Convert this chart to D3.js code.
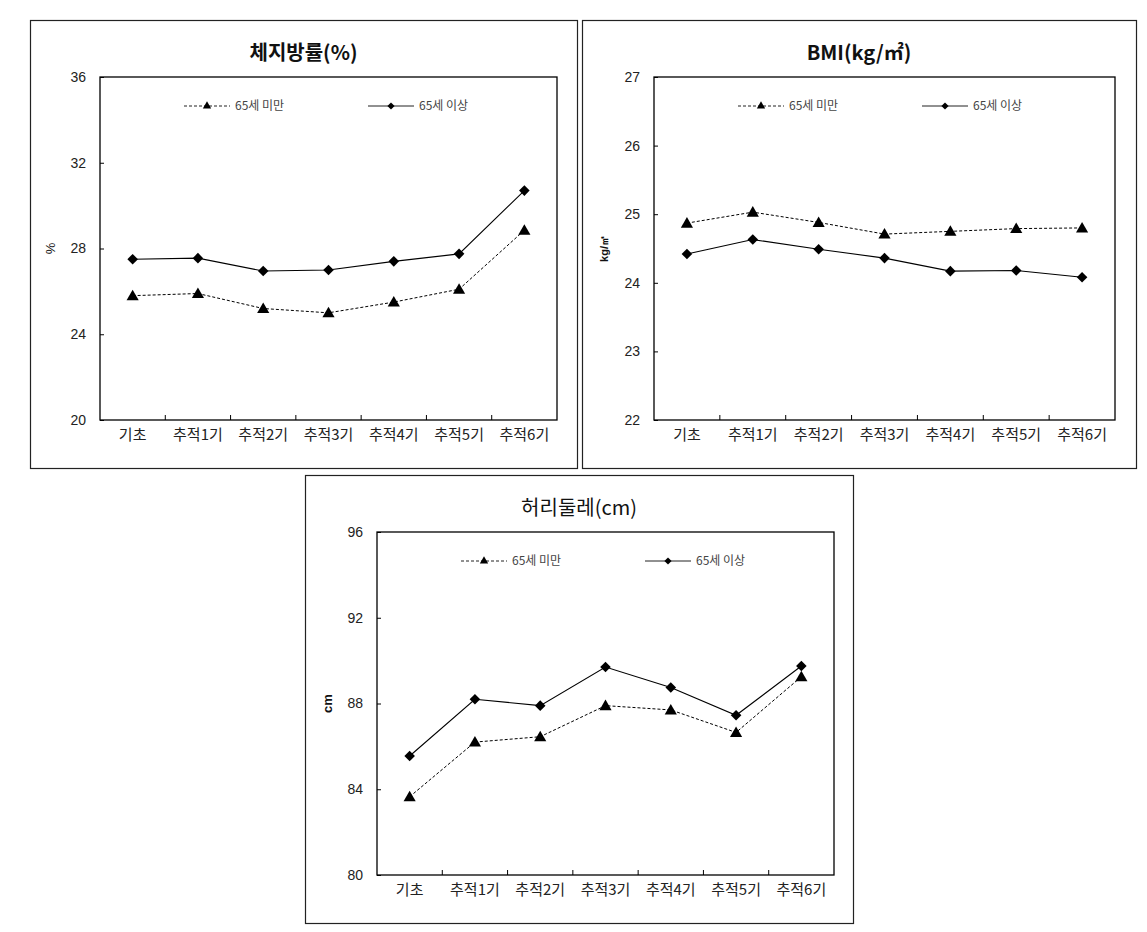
<!DOCTYPE html>
<html>
<head>
<meta charset="utf-8">
<script src="https://cdn.jsdelivr.net/npm/d3@7"></script>
<style>
  body { margin: 0; background: #fff; }
  svg { display: block; }
</style>
</head>
<body>
<script>
// three small line charts: body fat, BMI, waist, split by age group

var categories = ["기초", "추적1기", "추적2기", "추적3기", "추적4기", "추적5기", "추적6기"];
var seriesNames = ["65세 미만", "65세 이상"];

// body fat (%)
var fatUnder65 = [25.8, 25.9, 25.2, 25.0, 25.5, 26.1, 28.85];
var fatOver65 = [27.5, 27.55, 26.95, 27.0, 27.4, 27.75, 30.7];
var fatTicks = [20, 24, 28, 32, 36];

// BMI (kg/m2)
var bmiUnder65 = [24.87, 25.03, 24.88, 24.71, 24.75, 24.79, 24.80];
var bmiOver65 = [24.42, 24.63, 24.49, 24.36, 24.17, 24.18, 24.08];
var bmiTicks = [22, 23, 24, 25, 26, 27];

// waist (cm)
var waistUnder65 = [83.65, 86.2, 86.45, 87.9, 87.7, 86.65, 89.25];
var waistOver65 = [85.55, 88.2, 87.9, 89.7, 88.75, 87.45, 89.75];
var waistTicks = [80, 84, 88, 92, 96];

var svgWidth = 1147;
var svgHeight = 932;

var svg = d3.select("body")
  .append("svg")
  .attr("width", svgWidth)
  .attr("height", svgHeight);

const tickFont = "'Liberation Sans', Arial, sans-serif";
const korFont = "'Noto Sans CJK KR', 'Noto Sans', sans-serif";

function drawPanel(p) {
  var g = svg.append("g");

  // outer frame of the panel
  g.append("rect")
    .attr("x", p.box[0] + 0.5)
    .attr("y", p.box[1] + 0.5)
    .attr("width", p.box[2])
    .attr("height", p.box[3])
    .attr("fill", "#fff")
    .attr("stroke", "#222")
    .attr("stroke-width", 1.2);

  // title, centred on the panel
  g.append("text")
    .attr("x", p.box[0] + p.box[2] / 2)
    .attr("y", p.box[1] + 40)
    .attr("text-anchor", "middle")
    .attr("font-family", korFont)
    .attr("font-size", "20px")
    .attr("font-weight", p.titleWeight)
    .attr("fill", "#111")
    .text(p.title);

  var left = p.plot[0], top = p.plot[1], right = p.plot[2], bottom = p.plot[3];

  var x = d3.scaleBand()
    .domain(categories)
    .range([left, right])
    .padding(0);

  var y = d3.scaleLinear()
    .domain(d3.extent(p.ticks))
    .range([bottom, top]);

  // plot area border
  g.append("rect")
    .attr("x", left)
    .attr("y", top)
    .attr("width", right - left)
    .attr("height", bottom - top)
    .attr("fill", "none")
    .attr("stroke", "#000")
    .attr("stroke-width", 1.3);

  // y axis, ticks pointing inward
  var yAxis = g.append("g")
    .attr("transform", `translate(${left},0)`)
    .call(d3.axisLeft(y).tickValues(p.ticks).tickFormat(d3.format("d")).tickSize(-4).tickPadding(14));
  yAxis.select(".domain").remove();
  yAxis.selectAll("text")
    .attr("font-family", tickFont)
    .attr("font-size", "14px")
    .attr("fill", "#222");
  yAxis.selectAll("line").attr("stroke", "#000");

  // x axis labels
  var xAxis = g.append("g")
    .attr("transform", `translate(0,${bottom})`)
    .call(d3.axisBottom(x).tickSize(0).tickPadding(9));
  xAxis.select(".domain").remove();
  xAxis.selectAll("text")
    .attr("font-family", korFont)
    .attr("font-size", "15px")
    .attr("fill", "#222");

  // x ticks sit on the band boundaries, pointing up
  g.selectAll(".xtick")
    .data(categories.slice(1))
    .enter()
    .append("line")
    .attr("x1", d => x(d))
    .attr("x2", d => x(d))
    .attr("y1", bottom)
    .attr("y2", bottom - 5)
    .attr("stroke", "#000");

  // y axis title
  g.append("text")
    .attr("transform", `translate(${left - 50},${(top + bottom) / 2}) rotate(-90)`)
    .attr("text-anchor", "middle")
    .attr("dy", "0.35em")
    .attr("font-family", tickFont)
    .attr("font-size", p.yLabelSize)
    .attr("font-weight", p.yLabelWeight)
    .attr("fill", "#111")
    .text(p.yLabel);

  var line = d3.line()
    .x((d, i) => x(categories[i]) + x.bandwidth() / 2)
    .y(d => y(d));

  var tri = d3.symbol().type(d3.symbolTriangle).size(64);
  var dia = d3.symbol().type(d3.symbolSquare).size(56);

  // under 65: dashed with triangles
  g.append("path")
    .datum(p.under)
    .attr("d", line)
    .attr("fill", "none")
    .attr("stroke", "#000")
    .attr("stroke-width", 1)
    .attr("stroke-dasharray", "3,2");

  g.selectAll(".tri")
    .data(p.under)
    .enter()
    .append("path")
    .attr("d", tri)
    .attr("transform", (d, i) => `translate(${x(categories[i]) + x.bandwidth() / 2},${y(d) + 1})`)
    .attr("fill", "#000");

  // 65 and over: solid with diamonds (rotated squares)
  g.append("path")
    .datum(p.over)
    .attr("d", line)
    .attr("fill", "none")
    .attr("stroke", "#000")
    .attr("stroke-width", 1.1);

  g.selectAll(".dia")
    .data(p.over)
    .enter()
    .append("path")
    .attr("d", dia)
    .attr("transform", (d, i) => `translate(${x(categories[i]) + x.bandwidth() / 2},${y(d)}) rotate(45)`)
    .attr("fill", "#000");

  // legend inside the plot
  var ly = top + 29;
  var legend = [
    { name: seriesNames[0], x0: left + 84, dash: "3,2", sym: d3.symbol().type(d3.symbolTriangle).size(30), rot: 0 },
    { name: seriesNames[1], x0: left + 268, dash: null, sym: d3.symbol().type(d3.symbolSquare).size(26), rot: 45 }
  ];
  legend.forEach(function(l) {
    g.append("line")
      .attr("x1", l.x0)
      .attr("x2", l.x0 + 46)
      .attr("y1", ly)
      .attr("y2", ly)
      .attr("stroke", "#222")
      .attr("stroke-dasharray", l.dash);
    g.append("path")
      .attr("d", l.sym)
      .attr("transform", `translate(${l.x0 + 23},${ly}) rotate(${l.rot})`)
      .attr("fill", "#000");
    g.append("text")
      .attr("x", l.x0 + 51)
      .attr("y", ly)
      .attr("dy", "0.35em")
      .attr("font-family", korFont)
      .attr("font-size", "12px")
      .attr("fill", "#444")
      .text(l.name);
  });
}

drawPanel({
  box: [30, 20, 547, 448],
  plot: [100, 77, 557, 420],
  title: "체지방률(%)",
  titleWeight: "bold",
  ticks: fatTicks,
  under: fatUnder65,
  over: fatOver65,
  yLabel: "%",
  yLabelSize: "13px",
  yLabelWeight: "normal"
});

drawPanel({
  box: [582, 20, 554, 448],
  plot: [654, 77, 1115, 420],
  title: "BMI(kg/㎡)",
  titleWeight: "bold",
  ticks: bmiTicks,
  under: bmiUnder65,
  over: bmiOver65,
  yLabel: "kg/㎡",
  yLabelSize: "11px",
  yLabelWeight: "bold"
});

drawPanel({
  box: [305, 475, 548, 448],
  plot: [377, 532, 834, 875],
  title: "허리둘레(cm)",
  titleWeight: "normal",
  ticks: waistTicks,
  under: waistUnder65,
  over: waistOver65,
  yLabel: "cm",
  yLabelSize: "13px",
  yLabelWeight: "bold"
});
</script>
</body>
</html>
